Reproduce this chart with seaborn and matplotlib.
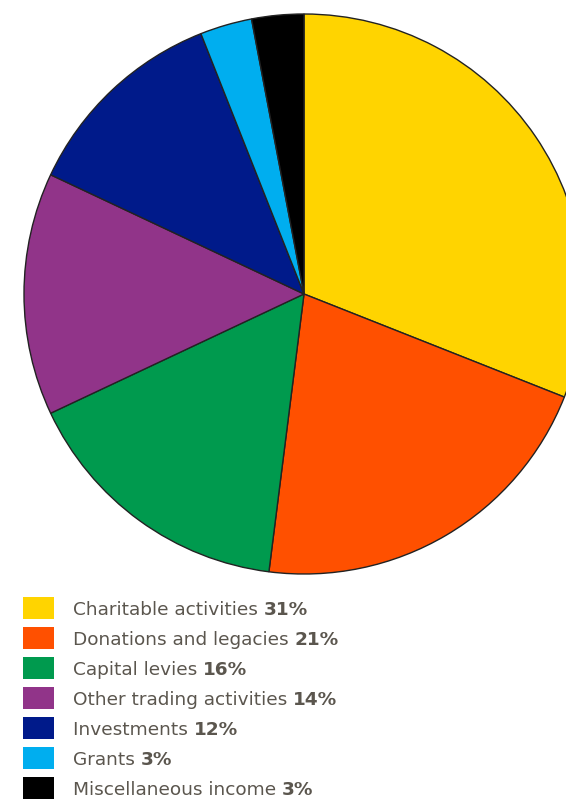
import matplotlib
matplotlib.use("Agg")
import matplotlib.pyplot as plt
from matplotlib.patches import Rectangle
import seaborn as sns

categories = ["Charitable activities", "Donations and legacies", "Capital levies",
              "Other trading activities", "Investments", "Grants", "Miscellaneous income"]
values = [31, 21, 16, 14, 12, 3, 3]
colors = ["#FFD400", "#FF5000", "#009A4E", "#913489", "#001A8A", "#00AEEF", "#000000"]

sns.set_theme(style="white")
plt.rcParams['font.family'] = ['DejaVu Sans']

W, H = 566, 801
fig = plt.figure(figsize=(W / 100, H / 100), dpi=100)

cx, cy, r = 304, 294, 280
ax = fig.add_axes([(cx - r) / W, (H - (cy + r)) / H, 2 * r / W, 2 * r / H])
ax.pie(values, colors=colors, startangle=90, counterclock=False, radius=1,
       wedgeprops=dict(edgecolor="#222222", linewidth=1.0))
ax.set_xlim(-1, 1)
ax.set_ylim(-1, 1)
ax.set_aspect("equal")
ax.axis("off")

text_color = "#5B564E"
fs = 13.3
base0, step = 615, 30
fig.canvas.draw()
renderer = fig.canvas.get_renderer()
for i, (cat, val, col) in enumerate(zip(categories, values, colors)):
    yb = base0 + i * step
    yc = yb - 7
    fig.patches.append(Rectangle((23 / W, (H - yc - 11) / H), 31 / W, 22 / H,
                                 transform=fig.transFigure, facecolor=col,
                                 edgecolor="none"))
    t = fig.text(73 / W, (H - yb) / H, cat + " ", fontsize=fs, color=text_color,
                 va="baseline", ha="left")
    bb = t.get_window_extent(renderer)
    fig.text(bb.x1 / W, (H - yb) / H, f"{val}%", fontsize=fs, color=text_color,
             fontweight="bold", va="baseline", ha="left")

fig.savefig("out.png", dpi=100)
